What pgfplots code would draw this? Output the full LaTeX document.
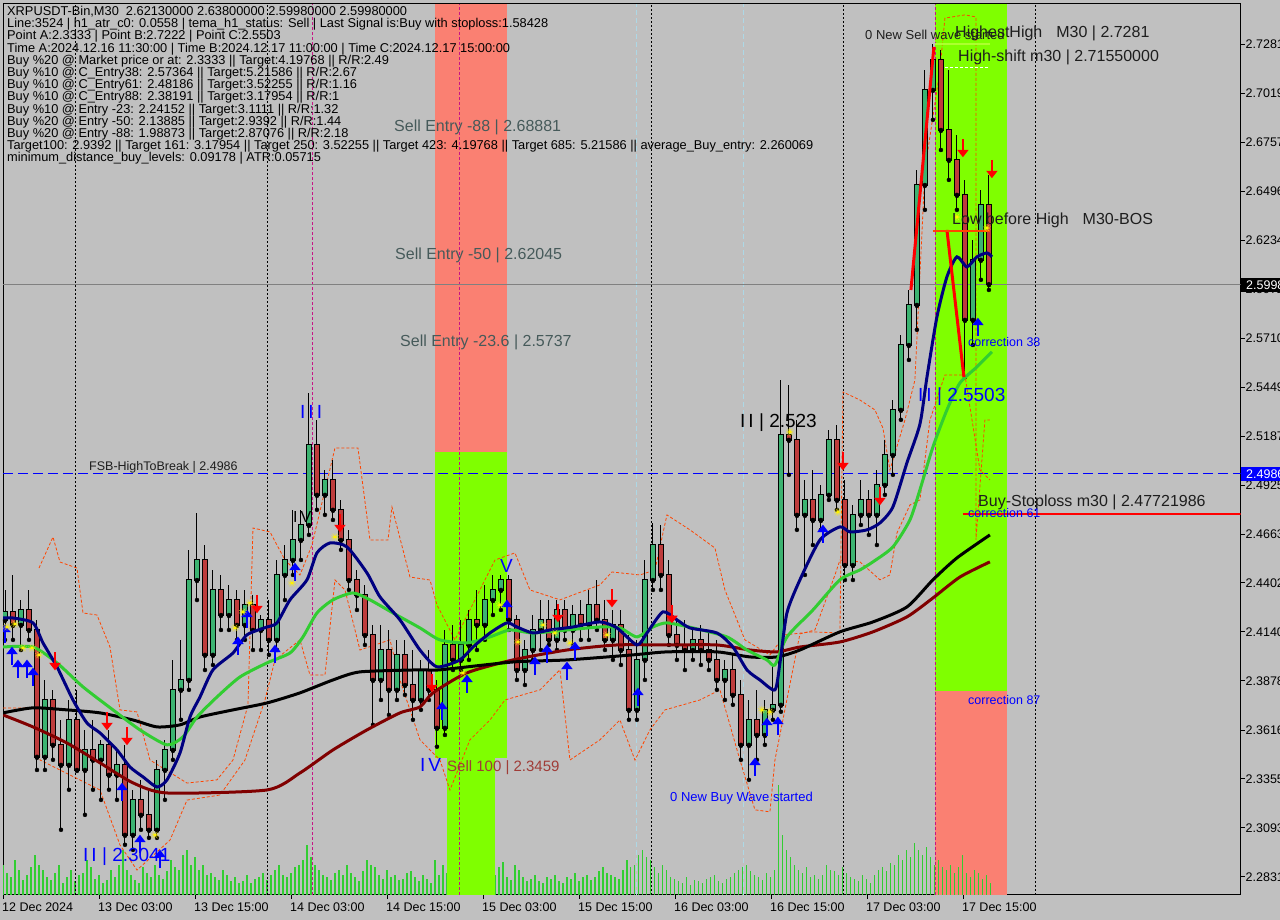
\documentclass[border=0pt]{standalone}
\usepackage{pgfplots}
\pgfplotsset{compat=1.18}
\usepackage{pgfplotstable}
\usepackage{fontspec}
\setmainfont{Liberation Sans}
\usetikzlibrary{arrows.meta}
\definecolor{bggray}{HTML}{C0C0C0}
\definecolor{salmonz}{HTML}{FA8072}
\definecolor{chartr}{HTML}{7FFF00}
\definecolor{upc}{RGB}{60,179,113}
\definecolor{dnc}{RGB}{190,60,60}
\definecolor{navyc}{HTML}{000080}
\definecolor{limec}{HTML}{32CD32}
\definecolor{maroonc}{HTML}{800000}
\definecolor{orr}{HTML}{FF4500}
\definecolor{slatec}{RGB}{70,90,90}
\definecolor{brownc}{RGB}{160,60,55}
\definecolor{magc}{HTML}{C71585}
\definecolor{lbluec}{HTML}{ADD8E6}
\definecolor{greenyel}{HTML}{ADFF2F}
\definecolor{darkt}{RGB}{30,30,30}
\definecolor{pureblue}{RGB}{0,0,255}

\pgfplotstableread{
x o h l c va vb
0.5 2.4204 2.4364 2.4097 2.4246 30 22
2.5 2.4246 2.4444 2.4097 2.4177 18 35
4.5 2.4177 2.4310 2.4043 2.4257 25 15
6.5 2.4257 2.4364 2.4097 2.4150 20 28
8.5 2.4150 2.4204 2.3402 2.3472 40 30
10.5 2.3472 2.3883 2.3402 2.3776 25 18
12.5 2.3776 2.3830 2.3456 2.3536 15 22
14.5 2.3536 2.3670 2.3082 2.3429 30 12
16.5 2.3429 2.3776 2.3296 2.3670 18 25
18.5 2.3670 2.3830 2.3402 2.3402 14 20
20.5 2.3402 2.3616 2.3162 2.3509 22 35
22.5 2.3509 2.3670 2.3296 2.3456 28 16
24.5 2.3456 2.3563 2.3242 2.3536 20 12
26.5 2.3536 2.3616 2.3296 2.3376 15 25
28.5 2.3376 2.3509 2.3242 2.3429 18 30
30.5 2.3429 2.3536 2.3002 2.3055 45 25
32.5 2.3055 2.3296 2.2975 2.3242 20 15
34.5 2.3242 2.3349 2.3082 2.3162 12 28
36.5 2.3162 2.3296 2.3039 2.3082 22 18
38.5 2.3082 2.3456 2.3039 2.3402 30 20
40.5 2.3402 2.3563 2.3242 2.3509 16 24
42.5 2.3509 2.3990 2.3456 2.3830 35 28
44.5 2.3830 2.4097 2.3670 2.3883 25 40
46.5 2.3883 2.4578 2.3830 2.4417 45 30
48.5 2.4417 2.4775 2.4310 2.4524 38 25
50.5 2.4524 2.4604 2.3936 2.4017 30 20
52.5 2.4017 2.4471 2.3963 2.4364 22 18
54.5 2.4364 2.4444 2.4150 2.4230 15 25
56.5 2.4230 2.4390 2.4150 2.4310 20 14
58.5 2.4310 2.4364 2.4097 2.4177 18 12
60.5 2.4177 2.4364 2.4097 2.4284 14 20
62.5 2.4284 2.4337 2.4043 2.4150 12 16
64.5 2.4150 2.4230 2.4043 2.4204 18 22
66.5 2.4204 2.4310 2.4017 2.4097 15 20
68.5 2.4097 2.4524 2.4043 2.4444 25 30
70.5 2.4444 2.4604 2.4310 2.4524 20 18
72.5 2.4524 2.4792 2.4444 2.4631 22 28
74.5 2.4631 2.4792 2.4524 2.4711 30 35
76.5 2.4711 2.5417 2.4658 2.5139 50 38
78.5 2.5139 2.5273 2.4792 2.4872 30 25
80.5 2.4872 2.5005 2.4765 2.4952 20 18
82.5 2.4952 2.5059 2.4738 2.4792 15 22
84.5 2.4792 2.4845 2.4578 2.4631 25 20
86.5 2.4631 2.4685 2.4364 2.4417 30 22
88.5 2.4417 2.4471 2.4257 2.4337 18 14
90.5 2.4337 2.4390 2.4070 2.4123 24 35
92.5 2.4123 2.4177 2.3643 2.3883 30 28
94.5 2.3883 2.4177 2.3776 2.4043 20 16
96.5 2.4043 2.4150 2.3696 2.3830 25 18
98.5 2.3830 2.4097 2.3776 2.4017 20 15
100.5 2.4017 2.4097 2.3803 2.3856 16 22
102.5 2.3856 2.4043 2.3670 2.3776 24 18
104.5 2.3776 2.3990 2.3723 2.3936 14 20
106.5 2.3936 2.4043 2.3776 2.3830 16 12
108.5 2.3830 2.3883 2.3526 2.3627 35 20
110.5 2.3627 2.4150 2.3589 2.4070 30 22
112.5 2.4070 2.4177 2.3936 2.3990 18 15
114.5 2.3990 2.4204 2.3936 2.4070 20 28
116.5 2.4070 2.4257 2.3990 2.4204 25 22
118.5 2.4204 2.4364 2.4043 2.4177 30 38
120.5 2.4177 2.4390 2.4097 2.4310 35 22
122.5 2.4310 2.4444 2.4230 2.4364 25 20
124.5 2.4364 2.4444 2.4257 2.4417 28 33
126.5 2.4417 2.4444 2.4150 2.4204 18 15
128.5 2.4204 2.4230 2.3883 2.3936 30 25
130.5 2.3936 2.4097 2.3856 2.4043 18 14
132.5 2.4043 2.4230 2.3990 2.4150 16 20
134.5 2.4150 2.4310 2.4043 2.4204 14 12
136.5 2.4204 2.4310 2.4070 2.4097 18 16
138.5 2.4097 2.4310 2.4043 2.4257 20 14
140.5 2.4257 2.4310 2.4097 2.4150 12 18
142.5 2.4150 2.4284 2.4070 2.4230 16 22
144.5 2.4230 2.4310 2.4097 2.4177 14 18
146.5 2.4177 2.4364 2.4097 2.4284 20 15
148.5 2.4284 2.4417 2.4150 2.4204 18 24
150.5 2.4204 2.4310 2.4043 2.4097 28 22
152.5 2.4097 2.4257 2.3990 2.4177 20 18
154.5 2.4177 2.4257 2.3963 2.4043 16 25
156.5 2.4043 2.4123 2.3670 2.3723 35 28
158.5 2.3723 2.4097 2.3670 2.3990 30 40
160.5 2.3990 2.4524 2.3883 2.4417 45 38
162.5 2.4417 2.4722 2.4364 2.4604 35 28
164.5 2.4604 2.4711 2.4364 2.4444 22 30
166.5 2.4444 2.4524 2.4070 2.4123 25 18
168.5 2.4123 2.4204 2.3990 2.4070 16 14
170.5 2.4070 2.4204 2.3936 2.4043 12 18
172.5 2.4043 2.4150 2.3990 2.4097 10 15
174.5 2.4097 2.4177 2.3963 2.4043 14 12
176.5 2.4043 2.4150 2.3936 2.3990 16 18
178.5 2.3990 2.4097 2.3830 2.3883 20 14
180.5 2.3883 2.3990 2.3776 2.3936 12 16
182.5 2.3936 2.4017 2.3750 2.3803 18 22
184.5 2.3803 2.3883 2.3456 2.3536 25 28
186.5 2.3536 2.3776 2.3349 2.3670 30 24
188.5 2.3670 2.3830 2.3456 2.3589 20 18
190.5 2.3589 2.3776 2.3536 2.3723 15 22
192.5 2.3723 2.3963 2.3670 2.3750 18 25
194.5 2.3750 2.5486 2.3713 2.5192 110 60
196.5 2.5192 2.5459 2.4979 2.5166 45 38
198.5 2.5166 2.5273 2.4685 2.4765 30 25
200.5 2.4765 2.4952 2.4444 2.4845 22 28
202.5 2.4845 2.5005 2.4604 2.4738 18 20
204.5 2.4738 2.4925 2.4685 2.4872 16 20
206.5 2.4872 2.5219 2.4845 2.5166 30 25
208.5 2.5166 2.5246 2.4792 2.4845 24 20
210.5 2.4845 2.4952 2.4417 2.4497 28 22
212.5 2.4497 2.4818 2.4417 2.4765 18 16
214.5 2.4765 2.4952 2.4711 2.4845 14 20
216.5 2.4845 2.4898 2.4658 2.4765 16 12
218.5 2.4765 2.5005 2.4604 2.4925 20 25
220.5 2.4925 2.5166 2.4872 2.5085 28 24
222.5 2.5085 2.5379 2.4979 2.5326 32 30
224.5 2.5326 2.5727 2.5273 2.5673 40 35
226.5 2.5673 2.5967 2.5593 2.5887 45 38
228.5 2.5887 2.6609 2.5754 2.6528 52 45
230.5 2.6528 2.7143 2.6395 2.7036 40 48
232.5 2.7036 2.7282 2.6876 2.7196 38 30
234.5 2.7196 2.7250 2.6715 2.6822 35 28
236.5 2.6822 2.7143 2.6555 2.6662 25 30
238.5 2.6662 2.6795 2.6395 2.6475 22 28
240.5 2.6475 2.6555 2.5502 2.5807 40 22
242.5 2.5807 2.6234 2.5673 2.6128 18 25
244.5 2.6128 2.6502 2.6021 2.6421 22 16
246.5 2.6421 2.6582 2.5967 2.5998 20 12
}\candles

\pgfplotstableread{
x y
0.5 2.4081
2.25 2.3963
3.75 2.3894
6 2.3894
7.5 2.3851
29.75 2.3236
34.25 2.2958
39.25 2.2878
58.75 2.4017
61 2.4161
68 2.3974
73 2.4412
109.75 2.3669
116 2.3814
126 2.4214
133 2.3910
136 2.3974
141 2.3883
143 2.3990
158.75 2.3744
188 2.3370
191 2.3583
193.75 2.3589
205 2.4615
243.75 2.5721
}\uparrows

\pgfplotstableread{
x y
13 2.4032
26 2.3712
31 2.3632
63.5 2.4337
84.25 2.4770
107.25 2.3915
138.75 2.4289
152.25 2.4369
167.25 2.4284
210 2.5101
219.25 2.4914
240 2.6774
247.25 2.6662
}\dnarrows

\pgfplotstableread{
x y
1 2.4166
3 2.4182
5 2.4054
7.25 2.4054
9 2.4017
38 2.3054
58 2.4161
60 2.4247
61.75 2.4294
72.25 2.4401
83 2.4647
115 2.3920
124.25 2.4284
128.75 2.4086
135 2.4177
138 2.4134
141.75 2.4081
151 2.4124
189.75 2.3723
191.75 2.3712
196.75 2.5208
208.75 2.4781
238.5 2.6357
246 2.6298
}\stars

\begin{document}
\begin{tikzpicture}
\fill[bggray] (0,0) rectangle (1280pt,920pt);
\useasboundingbox (0,0) rectangle (1280pt,920pt);
\begin{axis}[
  at={(3pt,25pt)}, anchor=south west,
  scale only axis, width=1237.5pt, height=891pt,
  xmin=0, xmax=309.4, ymin=2.27338, ymax=2.74953,
  axis line style={black, line width=1pt},
  clip mode=individual,
  xtick={0,24,48,72,96,120,144,168,192,216,240},
  xticklabels={12 Dec 2024, 13 Dec 03:00, 13 Dec 15:00, 14 Dec 03:00, 14 Dec 15:00, 15 Dec 03:00, 15 Dec 15:00, 16 Dec 03:00, 16 Dec 15:00, 17 Dec 03:00, 17 Dec 15:00},
  ytick={2.2831,2.3093,2.3355,2.3616,2.3878,2.4140,2.4402,2.4663,2.4925,2.5187,2.5449,2.5710,2.5972,2.6234,2.6496,2.6757,2.7019,2.7281},
  yticklabels={2.2831,2.3093,2.3355,2.3616,2.3878,2.4140,2.4402,2.4663,2.4925,2.5187,2.5449,2.5710,2.5972,2.6234,2.6496,2.6757,2.7019,2.7281},
  xtick pos=left, ytick pos=right, yticklabel pos=right,
  tick align=outside, major tick length=4pt,
  tick style={black, line width=0.8pt},
  xticklabel style={font=\fontsize{12.5}{14}\selectfont, anchor=north west, inner sep=0pt, xshift=-1pt, yshift=-4pt},
  yticklabel style={font=\fontsize{12.5}{14}\selectfont, anchor=west, inner sep=0pt, xshift=1pt},
]
% zones
\addplot[fill=salmonz, draw=none] coordinates {(108,2.5101) (126,2.5101) (126,2.74953) (108,2.74953)} -- cycle;
\addplot[fill=chartr, draw=none] coordinates {(108,2.3466) (126,2.3466) (126,2.5101) (108,2.5101)} -- cycle;
\addplot[fill=chartr, draw=none] coordinates {(233,2.3824) (251,2.3824) (251,2.74953) (233,2.74953)} -- cycle;
\addplot[fill=salmonz, draw=none] coordinates {(233,2.27338) (251,2.27338) (251,2.3824) (233,2.3824)} -- cycle;
% volumes
\addplot[ycomb, limec, line width=1.1pt] table[x expr=\thisrow{x}-0.5, y expr=2.27338+0.0005344*\thisrow{va}] {\candles};
\addplot[ycomb, limec, line width=1.1pt] table[x expr=\thisrow{x}+0.5, y expr=2.27338+0.0005344*\thisrow{vb}] {\candles};
\addplot[fill=chartr, draw=none] coordinates {(111,2.27338) (123,2.27338) (123,2.3466) (111,2.3466)} -- cycle;
% vertical lines
\addplot[black, line width=0.8pt, dash pattern=on 2pt off 2pt] coordinates {(18,2.27338) (18,2.74953)};
\addplot[black, line width=0.8pt, dash pattern=on 2pt off 2pt] coordinates {(66,2.27338) (66,2.74953)};
\addplot[black, line width=0.8pt, dash pattern=on 2pt off 2pt] coordinates {(162,2.27338) (162,2.74953)};
\addplot[black, line width=0.8pt, dash pattern=on 2pt off 2pt] coordinates {(210,2.27338) (210,2.74953)};
\addplot[black, line width=0.8pt, dash pattern=on 2pt off 2pt] coordinates {(258,2.27338) (258,2.74953)};
\addplot[magc, line width=0.8pt, dash pattern=on 3pt off 2pt] coordinates {(77.25,2.27338) (77.25,2.74953)};
\addplot[magc, line width=0.8pt, dash pattern=on 3pt off 2pt] coordinates {(114,2.27338) (114,2.74953)};
\addplot[magc, line width=0.8pt, dash pattern=on 3pt off 2pt] coordinates {(233,2.27338) (233,2.74953)};
\addplot[lbluec, line width=0.8pt, dash pattern=on 5pt off 3pt] coordinates {(158.25,2.27338) (158.25,2.74953)};
\addplot[lbluec, line width=0.8pt, dash pattern=on 5pt off 3pt] coordinates {(185,2.27338) (185,2.74953)};
% horizontal lines
\addplot[gray, line width=0.8pt] coordinates {(0,2.5998) (309.4,2.5998)};
\addplot[pureblue, line width=1.3pt, dash pattern=on 10pt off 5pt] coordinates {(0,2.4986) (309.4,2.4986)};
% channel (dashed orange)
\addplot[orr, line width=0.8pt, dash pattern=on 3pt off 2pt] coordinates {
(9,2.4481) (12.5,2.4647) (14.25,2.4513) (18.5,2.4481) (20,2.4241) (23.5,2.4230) (26.75,2.4059) (29.25,2.3723) (33.5,2.3712) (36.75,2.3455) (46,2.3332) (53.5,2.3349) (57.5,2.3455) (61.25,2.3749) (62.5,2.4695) (66.75,2.4674) (70.5,2.4524) (74.25,2.4444) (77.25,2.4604) (83,2.5123) (88.75,2.5123) (91.75,2.4631) (96.25,2.4631) (97.25,2.4807) (101.75,2.4433) (106.75,2.4417) (108.5,2.4284) (113,2.4097) (118,2.4311) (123,2.4524) (128,2.4562) (131.75,2.4364) (139.25,2.4311) (149.25,2.4391) (152.25,2.4460) (159.25,2.4444) (163,2.4471) (166,2.4765) (171.75,2.4685) (178,2.4588) (180.5,2.4364) (185.5,2.4097) (191.75,2.4017) (195.5,2.4124) (202.25,2.4140) (209.25,2.4134) (210,2.5422) (214.25,2.5379) (218,2.5326) (220,2.5229) (221.75,2.5005) (225.5,2.5272) (228,2.5486) (230.5,2.6608) (234.25,2.7143) (235.5,2.7420) (240.5,2.7437) (243.25,2.7426) (243.25,2.4631) (245.5,2.5272) (246.75,2.5272)};
\addplot[orr, line width=0.8pt, dash pattern=on 3pt off 2pt] coordinates {
(0,2.3733) (8.5,2.3733) (9.25,2.3455) (24.25,2.3295) (29.25,2.3001) (33.5,2.2867) (41.75,2.3027) (46,2.3241) (54.25,2.3268) (60.5,2.3455) (65.5,2.3776) (68,2.3990) (74.25,2.4097) (76.75,2.3909) (80.5,2.3909) (83,2.4417) (85.5,2.4364) (89.25,2.4043) (96.75,2.4097) (99.25,2.3883) (104.25,2.3563) (109.25,2.3455) (111.75,2.3295) (116.75,2.3563) (121.75,2.3669) (125.5,2.3776) (134.25,2.3830) (139.25,2.3937) (141.75,2.3455) (149.25,2.3563) (154.25,2.3669) (158,2.3455) (161.75,2.3616) (165.5,2.3723) (174.25,2.3776) (179.25,2.3830) (184.25,2.3455) (188,2.3189) (191.75,2.3178) (193,2.3455) (199.25,2.4129) (203,2.4150) (208,2.4444) (209.25,2.4524) (214.25,2.4514) (219.25,2.4418) (221.75,2.4444) (223.5,2.4668) (226.75,2.4818) (229.25,2.4845) (231.75,2.5272) (235.5,2.5513) (240.5,2.5513) (244.25,2.5005) (246.75,2.4952)};
% candles: wicks
\addplot[only marks, mark=none, error bars/.cd, y dir=plus, y explicit, error mark=none, error bar style={black, line width=1pt}]
  table[x=x, y=l, y error plus expr=\thisrow{h}-\thisrow{l}] {\candles};
% bodies outline
\addplot[only marks, mark=none, error bars/.cd, y dir=plus, y explicit, error mark=none, error bar style={black, line width=5.6pt}]
  table[x=x, y expr={min(\thisrow{o},\thisrow{c})-0.0005}, y error plus expr={abs(\thisrow{c}-\thisrow{o})+0.001}] {\candles};
\addplot[only marks, mark=none, restrict expr to domain={\thisrow{c}-\thisrow{o}}{0:1}, error bars/.cd, y dir=plus, y explicit, error mark=none, error bar style={upc, line width=3.6pt}]
  table[x=x, y expr={min(\thisrow{o},\thisrow{c})}, y error plus expr={abs(\thisrow{c}-\thisrow{o})}] {\candles};
\addplot[only marks, mark=none, restrict expr to domain={\thisrow{c}-\thisrow{o}}{-1:-0.00001}, error bars/.cd, y dir=plus, y explicit, error mark=none, error bar style={dnc, line width=3.6pt}]
  table[x=x, y expr={min(\thisrow{o},\thisrow{c})}, y error plus expr={abs(\thisrow{c}-\thisrow{o})}] {\candles};
% moving averages
\addplot[maroonc, line width=3pt, smooth, tension=0.4] coordinates {
(0,2.3696) (7.5,2.3632) (16,2.3546) (24.25,2.3440) (32.5,2.3333) (41,2.3279) (66,2.3295) (74.25,2.3386) (82.5,2.3509) (91,2.3616) (99.25,2.3707) (104.25,2.3739) (107.5,2.3814) (116,2.3921) (127.5,2.3990) (141,2.4043) (153.5,2.4070) (166,2.4070) (178.5,2.4070) (186.75,2.4043) (193.5,2.4033) (199.25,2.4059) (209.25,2.4086) (217.5,2.4140) (226,2.4220) (232.5,2.4321) (239.25,2.4433) (246.75,2.4514)};
\addplot[black, line width=3pt, smooth, tension=0.4] coordinates {
(0,2.3707) (7.5,2.3734) (16,2.3723) (24.25,2.3707) (32.5,2.3669) (38.5,2.3632) (44.25,2.3643) (49.25,2.3685) (57.5,2.3723) (66,2.3760) (74.25,2.3814) (82.5,2.3883) (89.25,2.3926) (104.25,2.3937) (109.25,2.3937) (127.5,2.3979) (141,2.3990) (157.5,2.4017) (166,2.4033) (178.5,2.4033) (186.75,2.4006) (193.5,2.4006) (199.25,2.4043) (209.25,2.4140) (217.5,2.4193) (226,2.4273) (232.5,2.4418) (238.5,2.4535) (246.75,2.4658)};
\addplot[limec, line width=3pt, smooth, tension=0.4] coordinates {
(0,2.4059) (7.5,2.4059) (13.5,2.3974) (20,2.3846) (27.5,2.3723) (34.25,2.3616) (41,2.3536) (45,2.3579) (48.5,2.3685) (53.5,2.3792) (59.25,2.3899) (66,2.3974) (71.75,2.4027) (75,2.4113) (78.5,2.4241) (82.5,2.4311) (87.5,2.4348) (91.75,2.4311) (97.5,2.4241) (104.25,2.4161) (109.25,2.4097) (116,2.4081) (121.75,2.4113) (126.75,2.4150) (132.5,2.4134) (141,2.4150) (149.25,2.4166) (154.25,2.4161) (158.5,2.4113) (162.5,2.4166) (166,2.4188) (172.5,2.4161) (181,2.4113) (186,2.4043) (191,2.3990) (193,2.3963) (196,2.4113) (202.5,2.4257) (209.25,2.4418) (214.25,2.4471) (217.5,2.4514) (222.5,2.4594) (226.75,2.4738) (229.25,2.4899) (232.5,2.5128) (236,2.5326) (239.25,2.5470) (243.5,2.5556) (247.25,2.5636)};
\addplot[navyc, line width=3pt, smooth, tension=0.4] coordinates {
(0,2.4214) (2.5,2.4214) (7.5,2.4188) (10,2.4081) (13.5,2.3953) (17.5,2.3776) (21,2.3653) (24.25,2.3600) (28.5,2.3509) (31.75,2.3418) (35,2.3365) (38.5,2.3311) (41,2.3349) (44.25,2.3493) (46.75,2.3685) (49.25,2.3792) (52.5,2.3937) (57.5,2.4027) (61,2.4124) (66,2.4166) (68.5,2.4188) (71.75,2.4311) (76,2.4418) (78.5,2.4562) (81.75,2.4615) (86,2.4594) (91,2.4455) (94.25,2.4327) (99.25,2.4204) (104.25,2.4043) (108.5,2.3953) (114.25,2.3990) (117.5,2.4059) (121.75,2.4134) (126,2.4188) (128.5,2.4166) (132.5,2.4134) (136.75,2.4150) (142.5,2.4166) (149.25,2.4193) (153.5,2.4161) (158.5,2.4070) (161,2.4134) (165,2.4247) (168.5,2.4204) (171.75,2.4161) (178.5,2.4134) (182.5,2.4059) (186,2.3937) (189.25,2.3883) (193,2.3830) (194.25,2.3974) (196,2.4241) (199.25,2.4418) (204.25,2.4631) (209.25,2.4701) (211.75,2.4674) (216,2.4685) (219.25,2.4722) (222.5,2.4808) (226,2.5043) (229.25,2.5250) (231,2.5500) (233.5,2.5823) (236,2.6037) (238.5,2.6144) (241,2.6090) (243.5,2.6144) (246,2.6165) (247.25,2.6144)};
% structure lines
\addplot[red, line width=3pt] coordinates {(227,2.5967) (232.75,2.7266)};
\addplot[red, line width=3pt] coordinates {(236,2.6288) (240.25,2.5502)};
\addplot[orr, line width=2pt] coordinates {(232.5,2.6282) (246.75,2.6282)};
\addplot[greenyel, line width=1.5pt] coordinates {(233,2.7281) (246.75,2.7281)};
\addplot[white, line width=1pt, dash pattern=on 3pt off 2pt] coordinates {(235.5,2.7155) (246.75,2.7155)};
\addplot[red, line width=2pt] coordinates {(240,2.4772) (309.4,2.4772)};
% arrows and stars
\addplot[pureblue, line width=2.8pt, -{Triangle[width=11pt,length=7.5pt]}, quiver={u=0, v=0.0098}] table[x=x, y=y] {\uparrows};
\addplot[red, line width=2.8pt, -{Triangle[width=11pt,length=7.5pt]}, quiver={u=0, v=-0.0098}] table[x=x, y=y] {\dnarrows};
\addplot[only marks, mark=10-pointed star, mark size=4pt, mark options={fill=yellow, draw=yellow}] table[x=x, y=y] {\stars};
\end{axis}
\begin{scope}[shift={(0pt,920pt)}, x=1pt, y=-1pt]
\node[anchor=north west, inner sep=0pt, align=left, font=\fontsize{12.8}{12.2}\selectfont] at (7,6) {%
XRPUSDT-Bin,M30\ \ 2.62130000 2.63800000 2.59980000 2.59980000\\
Line:3524 | h1\_atr\_c0: 0.0558 | tema\_h1\_status: Sell | Last Signal is:Buy with stoploss:1.58428\\
Point A:2.3333 | Point B:2.7222 | Point C:2.5503\\
Time A:2024.12.16 11:30:00 | Time B:2024.12.17 11:00:00 | Time C:2024.12.17 15:00:00\\
Buy \%20 @ Market price or at: 2.3333 || Target:4.19768 || R/R:2.49\\
Buy \%10 @ C\_Entry38: 2.57364 || Target:5.21586 || R/R:2.67\\
Buy \%10 @ C\_Entry61: 2.48186 || Target:3.52255 || R/R:1.16\\
Buy \%10 @ C\_Entry88: 2.38191 || Target:3.17954 || R/R:1\\
Buy \%10 @ Entry -23: 2.24152 || Target:3.1111 || R/R:1.32\\
Buy \%20 @ Entry -50: 2.13885 || Target:2.9392 || R/R:1.44\\
Buy \%20 @ Entry -88: 1.98873 || Target:2.87076 || R/R:2.18\\
Target100: 2.9392 || Target 161: 3.17954 || Target 250: 3.52255 || Target 423: 4.19768 || Target 685: 5.21586 || average\_Buy\_entry: 2.260069\\
minimum\_distance\_buy\_levels: 0.09178 | ATR:0.05715};
\node[anchor=west, inner sep=0pt, font=\fontsize{16}{18}\selectfont, text=slatec] at (394,127) {Sell Entry -88 | 2.68881};
\node[anchor=west, inner sep=0pt, font=\fontsize{16}{18}\selectfont, text=slatec] at (395,255) {Sell Entry -50 | 2.62045};
\node[anchor=west, inner sep=0pt, font=\fontsize{16}{18}\selectfont, text=slatec] at (400,342) {Sell Entry -23.6 | 2.5737};
\node[anchor=west, inner sep=0pt, font=\fontsize{15}{18}\selectfont, text=brownc] at (447,768) {Sell 100 | 2.3459};
\node[anchor=west, inner sep=0pt, font=\fontsize{12.5}{14}\selectfont, text=darkt] at (89,467) {FSB-HighToBreak | 2.4986};
\node[anchor=west, inner sep=0pt, font=\fontsize{13}{15}\selectfont, text=pureblue] at (670,798) {0 New Buy Wave started};
\node[anchor=west, inner sep=0pt, font=\fontsize{13}{15}\selectfont, text=darkt] at (865,35) {0 New Sell wave started};
\node[anchor=west, inner sep=0pt, font=\fontsize{16}{18}\selectfont, text=darkt] at (955,33) {HighestHigh\hspace{14pt}M30 | 2.7281};
\node[anchor=west, inner sep=0pt, font=\fontsize{16}{18}\selectfont, text=darkt] at (958,57) {High-shift m30 | 2.71550000};
\node[anchor=west, inner sep=0pt, font=\fontsize{16}{18}\selectfont, text=darkt] at (952,220) {Low before High\hspace{14pt}M30-BOS};
\node[anchor=west, inner sep=0pt, font=\fontsize{16}{18}\selectfont, text=darkt] at (978,502) {Buy-Stoploss m30 | 2.47721986};
\node[anchor=west, inner sep=0pt, font=\fontsize{12.5}{14}\selectfont, text=pureblue] at (968,342) {correction 38};
\node[anchor=west, inner sep=0pt, font=\fontsize{12.5}{14}\selectfont, text=pureblue] at (968,513) {correction 61};
\node[anchor=west, inner sep=0pt, font=\fontsize{12.5}{14}\selectfont, text=pureblue] at (968,700) {correction 87};
\node[anchor=west, inner sep=0pt, font=\fontsize{19}{21}\selectfont, text=pureblue] at (918,397) {I\hspace{3pt}I | 2.5503};
\node[anchor=west, inner sep=0pt, font=\fontsize{19}{21}\selectfont, text=black] at (740,423) {I\hspace{3pt}I | 2.523};
\node[anchor=west, inner sep=0pt, font=\fontsize{19}{21}\selectfont, text=pureblue] at (83,857) {I\hspace{3pt}I | 2.3041};
\node[anchor=west, inner sep=0pt, font=\fontsize{19}{21}\selectfont, text=pureblue] at (300,412) {I\hspace{3pt}I\hspace{3pt}I};
\node[anchor=west, inner sep=0pt, font=\fontsize{19}{21}\selectfont, text=pureblue] at (500,566) {V};
\node[anchor=west, inner sep=0pt, font=\fontsize{19}{21}\selectfont, text=pureblue] at (420,765) {I\hspace{3pt}V};
\node[anchor=west, inner sep=0pt, font=\fontsize{16}{18}\selectfont, text=black] at (293,517) {I\hspace{3pt}V};
\fill[black] (1241,278) rectangle (1290,292);
\node[anchor=west, inner sep=0pt, font=\fontsize{12.5}{14}\selectfont, text=white] at (1246,285) {2.5998};
\fill[pureblue] (1241,467) rectangle (1290,481);
\node[anchor=west, inner sep=0pt, font=\fontsize{12.5}{14}\selectfont, text=white] at (1246,474) {2.4986};
\end{scope}
\end{tikzpicture}
\end{document}
